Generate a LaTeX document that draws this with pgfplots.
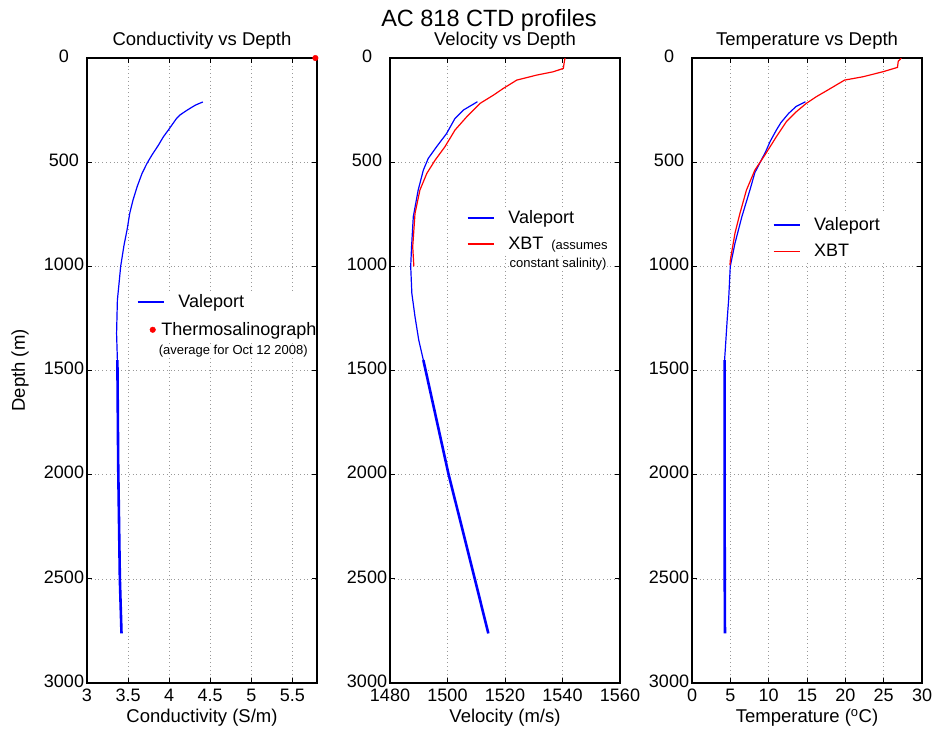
\documentclass[border=0pt]{standalone}
\usepackage{fontspec}
\setmainfont{Liberation Sans}
\usepackage{pgfplots}
\pgfplotsset{compat=1.18}

\tikzset{smalltxt/.style={font=\fontsize{13}{15}\selectfont, anchor=west, inner sep=0.5pt, fill=white}}
\pgfplotsset{
  ctd/.style={
    scale only axis, width=230pt, height=625pt,
    anchor=north west,
    y dir=reverse, ymin=0, ymax=3000, ytick={0,500,...,3000},
    grid=major,
    major grid style={gray!80, line width=0.6pt, dash pattern=on 0.8pt off 3pt},
    tick align=inside, major tick length=5pt,
    tick style={black, line width=0.8pt},
    axis line style={line width=1.4pt},
    /pgf/number format/assume math mode=true,
    /pgf/number format/1000 sep={},
    ticklabel style={font=\fontsize{18}{20}\selectfont},
    yticklabel style={anchor=center, xshift=-23pt, yshift=2pt, inner sep=0pt},
    xticklabel style={anchor=north, inner sep=0pt, yshift=-6pt},
    title style={at={(0.5,1)}, anchor=south, inner sep=0pt, yshift=2pt, font=\fontsize{18.5}{20}\selectfont},
    xlabel style={at={(axis description cs:0.5,0)}, anchor=north, inner sep=0pt, yshift=-26pt, font=\fontsize{18.5}{20}\selectfont},
    legend style={draw=none, fill=white, inner sep=4pt, outer sep=0pt, anchor=north west,
      font=\fontsize{18}{20}\selectfont, nodes={inner sep=0pt}, column sep=14pt},
    legend cell align=left,
    legend image code/.code={\draw[##1, line width=1.3pt] plot coordinates {(0pt,0pt) (13pt,0pt) (26pt,0pt)};},
  },
  dotlegend/.style={legend image code/.code={\draw[##1] plot coordinates {(15pt,0pt)};}},
}

\begin{document}
\begin{tikzpicture}
\useasboundingbox (0,0) rectangle (939pt,-728pt);
\node[font=\fontsize{23.5}{26}\selectfont, anchor=base] at (489pt,-27pt) {AC 818 CTD profiles};

% ---------- Conductivity ----------
\begin{axis}[ctd, at={(87pt,-58pt)}, clip=false,
  xmin=3, xmax=5.8, xtick={3,3.5,4,4.5,5,5.5},
  title={Conductivity vs Depth},
  xlabel={Conductivity (S/m)},
  ylabel={Depth (m)},
  ylabel style={at={(axis description cs:-0.2913,0.5)}, anchor=center, inner sep=0pt, font=\fontsize{18.5}{20}\selectfont},
  legend style={at={(axis cs:3.6098,1116.7)}, row sep=13.3pt, inner xsep=0pt},
]
\addplot[blue, line width=1.2pt] coordinates {
 (4.41,211) (4.32,226) (4.22,250) (4.13,274) (4.09,290) (3.99,346) (3.93,378)
 (3.87,418) (3.79,466) (3.73,506) (3.67,554) (3.61,618) (3.56,682) (3.52,746)
 (3.49,820) (3.45,900) (3.41,1000) (3.39,1082) (3.37,1162) (3.36,1322) (3.37,1450)
};
\addlegendentry{Valeport}
\addplot[only marks, mark=*, mark size=2.8pt, red, dotlegend] coordinates {(5.78,0)};
\addlegendentry{\hspace*{-17pt}Thermosalinograph}
\addplot[blue, line width=2.6pt, forget plot] coordinates {
 (3.37,1450) (3.38,1960) (3.40,2500) (3.42,2762)
};
\node[smalltxt] at (axis cs:3.866,1406) {(average for Oct 12 2008)};
\end{axis}

% ---------- Velocity ----------
\begin{axis}[ctd, at={(390pt,-58pt)},
  xmin=1480, xmax=1560, xtick={1480,1500,...,1560},
  title={Velocity vs Depth},
  xlabel={Velocity (m/s)},
  legend style={at={(axis cs:1505.4,713.5)}, row sep=11.85pt},
]
\addplot[blue, line width=1.2pt] coordinates {
 (1510.4,210) (1505.5,250) (1502.6,290) (1499.7,362) (1496.2,426) (1493.3,482)
 (1491.6,538) (1489.8,634) (1488.1,762) (1487.5,906) (1487.2,1000) (1487.6,1130)
 (1488.7,1242) (1490.0,1354) (1491.6,1450)
};
\addlegendentry{Valeport}
\addplot[red, line width=1.2pt] coordinates {
 (1540.9,0) (1540.6,20) (1540.3,50) (1536.8,66) (1531.0,82) (1524.1,106) (1519.4,146)
 (1516.0,178) (1511.3,218) (1506.7,282) (1502.6,346) (1499.1,426) (1495.7,490)
 (1492.8,554) (1490.4,634) (1488.7,746) (1487.9,906) (1488.3,1000)
};
\addlegendentry{XBT\hspace{8pt}{\fontsize{13}{15}\selectfont(assumes}}
\addplot[blue, line width=2.6pt, forget plot] coordinates {
 (1491.6,1450) (1500.3,1994) (1509.6,2506) (1514.2,2762)
};
\node[smalltxt] at (axis cs:1521.4,988.8) {constant salinity)};
\end{axis}

% ---------- Temperature ----------
\begin{axis}[ctd, at={(692pt,-58pt)},
  xmin=0, xmax=30, xtick={0,5,...,30},
  title={Temperature vs Depth},
  xlabel={Temperature (\textsuperscript{o}C)},
  legend style={at={(axis cs:10.03,747)}, row sep=12.2pt},
]
\addplot[blue, line width=1.2pt, forget plot] coordinates {
 (14.8,210) (13.6,232) (12.6,266) (11.6,310) (11.0,346) (10.2,400) (9.6,450)
 (8.9,500) (8.2,550) (7.55,634) (6.5,762) (5.6,890) (4.99,1000) (4.78,1160)
 (4.6,1250) (4.34,1400) (4.25,1450)
};
\addplot[red, line width=1.2pt, forget plot] coordinates {
 (27.3,0) (26.9,16) (26.8,45) (24.9,66) (22.3,90) (19.9,106) (18.8,130) (17.7,154)
 (16.2,186) (14.9,218) (13.6,258) (12.3,306) (11.0,378) (9.5,466) (8.2,538)
 (7.1,634) (6.25,746) (5.6,842) (5.0,970) (4.95,994)
};
\addplot[blue, line width=2.6pt, forget plot] coordinates {
 (4.25,1450) (4.25,2000) (4.27,2500) (4.30,2762)
};
\addlegendimage{blue, line width=1.2pt}
\addlegendentry{Valeport}
\addlegendimage{red, line width=1.2pt}
\addlegendentry{XBT}
\end{axis}
\end{tikzpicture}
\end{document}
